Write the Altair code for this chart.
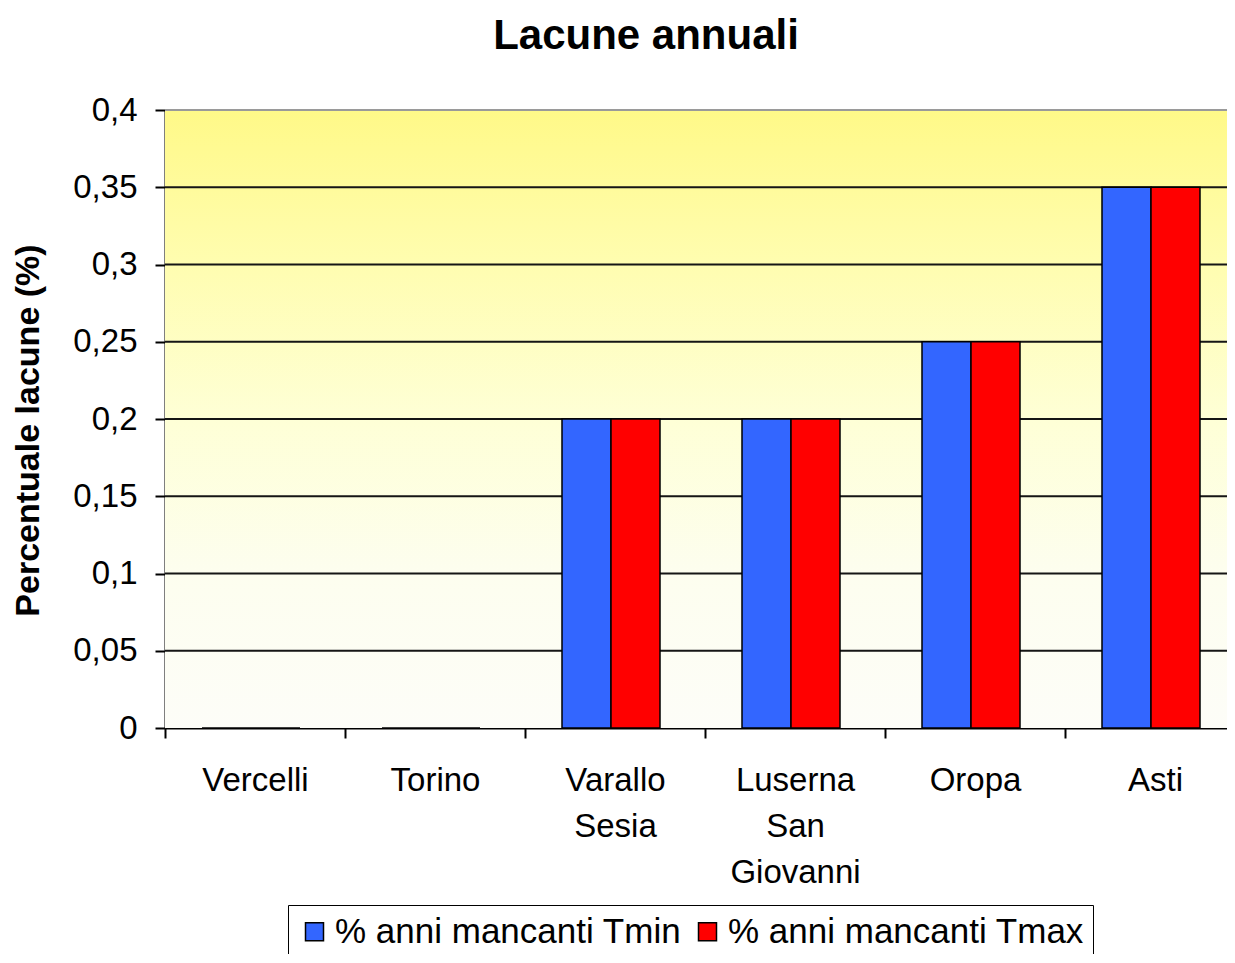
import altair as alt
import pandas as pd

stations = ["Vercelli", "Torino", "Varallo Sesia", "Luserna San Giovanni", "Oropa", "Asti"]
tmin = [0, 0, 0.2, 0.2, 0.25, 0.35]
tmax = [0, 0, 0.2, 0.2, 0.25, 0.35]
series = ["% anni mancanti Tmin", "% anni mancanti Tmax"]
colors = ["#3366FF", "#FF0000"]
y_ticks = [0, 0.05, 0.1, 0.15, 0.2, 0.25, 0.3, 0.35, 0.4]

rows = []
for s, vals in zip(series, [tmin, tmax]):
    for st, v in zip(stations, vals):
        rows.append({"station": st, "series": s, "value": v})
df = pd.DataFrame(rows)
grid_df = pd.DataFrame({"y": y_ticks[1:]})

W = 1062
H = 618
FONT = "Liberation Sans"

yscale = alt.Scale(domain=[0, 0.4], nice=False, zero=True)
xscale = alt.Scale(domain=stations, range=[0, 1080], paddingInner=0, paddingOuter=0)

yaxis = alt.Axis(
    title="Percentuale lacune (%)", titleFont=FONT, titleFontSize=34, titleFontWeight="bold",
    titleColor="black", titleX=-137, titleY=320, titleAngle=270, titleAlign="center",
    titleBaseline="middle",
    values=y_ticks, labelExpr="replace(format(datum.value, '~g'), '.', ',')",
    labelFont=FONT, labelFontSize=33, labelColor="black", labelPadding=18,
    tickSize=10, tickWidth=2, tickColor="black", domainColor="black", domainWidth=2,
    grid=False,
)

gradient = alt.Gradient(
    gradient="linear",
    stops=[
        alt.GradientStop(color="#FFF988", offset=0),
        alt.GradientStop(color="#FFFDB0", offset=0.25),
        alt.GradientStop(color="#FEFFD6", offset=0.5),
        alt.GradientStop(color="#FDFEEF", offset=0.75),
        alt.GradientStop(color="#FDFDF8", offset=1),
    ],
    x1=0, x2=0, y1=0, y2=1,
)

bg = alt.Chart(pd.DataFrame({"a": [0]})).mark_rect(fill=gradient).encode(
    x=alt.value(0), x2=alt.value(W), y=alt.value(0), y2=alt.value(H)
)

grid = alt.Chart(grid_df).mark_rule(strokeWidth=2).encode(
    y=alt.Y("y:Q", scale=yscale, axis=yaxis),
    x=alt.value(0),
    x2=alt.value(W),
    color=alt.condition(alt.datum.y >= 0.4, alt.value("#9a9a9a"), alt.value("#151515")),
)

bars = alt.Chart(df).mark_bar(stroke="black", strokeWidth=1.5).encode(
    x=alt.X(
        "station:N",
        scale=xscale,
        sort=stations,
        axis=alt.Axis(
            title=None, labelAngle=0, labelFont=FONT, labelFontSize=33, labelColor="black",
            labelExpr="split(datum.label, ' ')", labelLineHeight=46, labelPadding=26,
            tickSize=10, tickWidth=2, tickColor="black", tickBand="extent",
            domainColor="black", domainWidth=2, grid=False, labelOverlap=False, labelLimit=0,
        ),
    ),
    xOffset=alt.XOffset(
        "series:N", sort=series,
        scale=alt.Scale(domain=series, range=[37, 135], paddingInner=0, paddingOuter=0),
    ),
    y=alt.Y("value:Q", scale=yscale, axis=yaxis),
    color=alt.Color(
        "series:N",
        sort=series,
        scale=alt.Scale(domain=series, range=colors),
        legend=alt.Legend(
            title=None, orient="none", legendX=123, legendY=795, direction="horizontal",
            labelFont=FONT, labelFontSize=35, labelColor="black", labelLimit=0,
            symbolType="square", symbolSize=324, symbolStrokeColor="black",
            symbolStrokeWidth=1.5, strokeColor="black", fillColor="white", padding=9,
            columnPadding=8, labelOffset=3,
        ),
    ),
)

chart = alt.layer(bg, grid, bars).properties(
    width=W,
    height=H,
    autosize=alt.AutoSizeParams(type="none"),
    padding={"left": 157, "top": 102, "right": 0, "bottom": 226},
    title=alt.TitleParams(
        "Lacune annuali", font=FONT, fontSize=42, fontWeight="bold", color="black",
        anchor="middle", frame="group", dx=-50, offset=36,
    ),
).configure_view(stroke=None).configure(background="white")

chart.save("out.html", embed_options={"renderer": "svg", "actions": False})
